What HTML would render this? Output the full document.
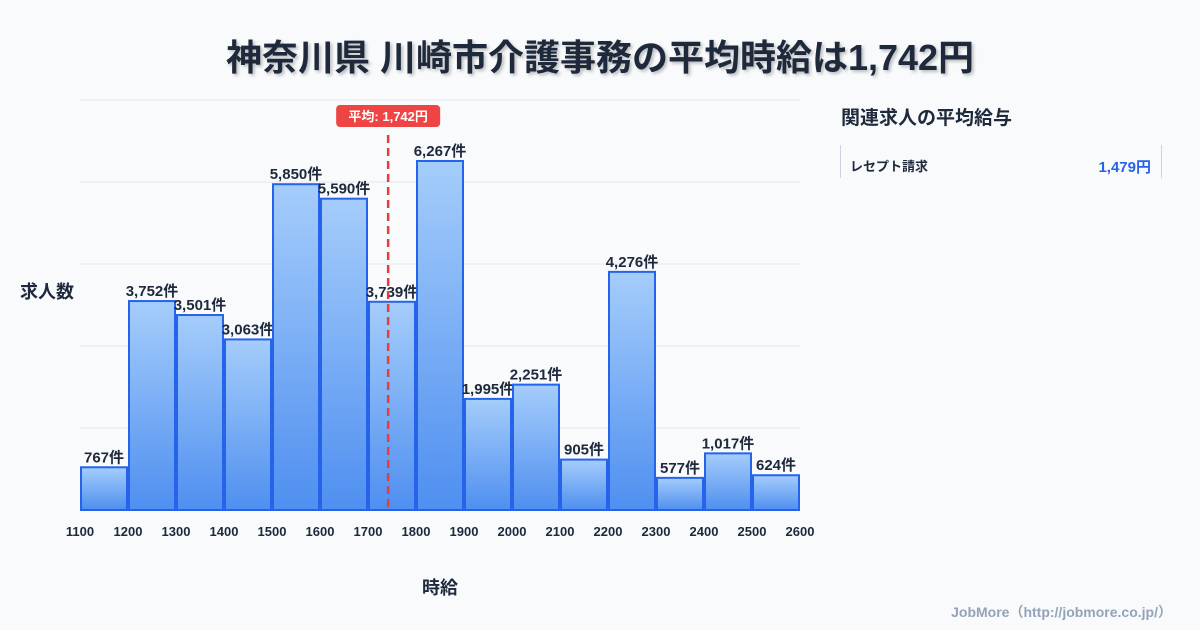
<!DOCTYPE html>
<html><head><meta charset="utf-8">
<style>
body{margin:0;background:#f8fafc;font-family:"Liberation Sans","Noto Sans CJK JP",sans-serif;}
#wrap{position:relative;width:1200px;height:630px;overflow:hidden;background:#f8fafc;}
#title{position:absolute;left:0;width:1200px;top:29px;text-align:center;font-size:36px;font-weight:bold;color:#1e293b;text-shadow:2px 2px 3px rgba(0,0,0,0.25);}
#side-title{position:absolute;left:841px;top:103px;font-size:19px;font-weight:bold;color:#1e293b;}
#card{position:absolute;left:840px;top:145px;width:320px;height:33px;border-left:1px solid #cbd5e1;border-right:1px solid #cbd5e1;}
#card .n{position:absolute;left:9px;top:11px;font-size:13px;font-weight:bold;color:#1e293b;}
#card .v{position:absolute;right:10px;top:11px;font-size:15px;font-weight:bold;color:#2563eb;}
#foot{position:absolute;right:28px;top:602px;font-size:14px;font-weight:bold;color:#94a3b8;}
svg text{font-family:"Liberation Sans","Noto Sans CJK JP",sans-serif;}
</style></head><body>
<div id="wrap">
<div id="title">神奈川県 川崎市介護事務の平均時給は1,742円</div>
<svg id="chart" width="1200" height="630" style="position:absolute;left:0;top:0"></svg>
<div id="side-title">関連求人の平均給与</div>
<div id="card"><span class="n">レセプト請求</span><span class="v">1,479円</span></div>
<div id="foot">JobMore（http://jobmore.co.jp/）</div>
</div>
<script>
const binStarts=[1100,1200,1300,1400,1500,1600,1700,1800,1900,2000,2100,2200,2300,2400,2500];
const counts=[767,3752,3501,3063,5850,5590,3739,6267,1995,2251,905,4276,577,1017,624];
const xTicks=[1100,1200,1300,1400,1500,1600,1700,1800,1900,2000,2100,2200,2300,2400,2500,2600];
const meanValue=1742;
const binWidth=100;
const xMin=1100,xMax=2600,yMax=7362;
const L=80,R=800,T=100,B=510;
const sx=v=>L+(v-xMin)/(xMax-xMin)*(R-L);
const sy=v=>B-v/yMax*(B-T);
const NS="http://www.w3.org/2000/svg";
const svg=document.getElementById('chart');
function mk(tag,attrs,parent){const e=document.createElementNS(NS,tag);for(const k in attrs)e.setAttribute(k,attrs[k]);(parent||svg).appendChild(e);return e;}
const defs=mk('defs',{});
const g=mk('linearGradient',{id:'bg',x1:0,y1:0,x2:0,y2:1},defs);
mk('stop',{offset:'0','stop-color':'#a5cdfb'},g);mk('stop',{offset:'1','stop-color':'#4f8ff0'},g);
for(let i=0;i<=5;i++){const y=T+i*(B-T)/5;const l=mk('line',{x1:L,x2:R,y1:y,y2:y,stroke:'#e2e8f0','stroke-width':1});

}
binStarts.forEach((b,i)=>{
 const x0=sx(b)+1,x1=sx(b+binWidth)-1,y=sy(counts[i]);
 const r=mk('rect',{x:x0,y:y,width:x1-x0,height:B-y,fill:'url(#bg)',stroke:'#2563eb','stroke-width':2});
 
 
 const t=mk('text',{x:(x0+x1)/2,y:y-5,'text-anchor':'middle','font-size':15,'font-weight':'bold',fill:'#1e293b'});
 t.textContent=counts[i].toLocaleString('en-US')+'件';
 
 
});
xTicks.forEach(v=>{const t=mk('text',{x:sx(v),y:536,'text-anchor':'middle','font-size':13,'font-weight':'bold',fill:'#1e293b'});t.textContent=v;

});
const mx=sx(meanValue);
const ml=mk('line',{x1:mx,x2:mx,y1:135,y2:B,stroke:'#e53e3e','stroke-width':2.5,'stroke-dasharray':'8,5'});


const badge=mk('rect',{x:mx-52,y:105,width:104,height:22,rx:4,fill:'#ef4444'});


const bt=mk('text',{x:mx,y:121,'text-anchor':'middle','font-size':13,'font-weight':'bold',fill:'#fff'});
bt.textContent='平均: '+meanValue.toLocaleString('en-US')+'円';


const yt=mk('text',{x:20,y:298,'font-size':18,'font-weight':'bold',fill:'#1e293b'});yt.textContent='求人数';


const xt=mk('text',{x:440,y:594,'text-anchor':'middle','font-size':18,'font-weight':'bold',fill:'#1e293b'});xt.textContent='時給';


</script>
</body></html>
